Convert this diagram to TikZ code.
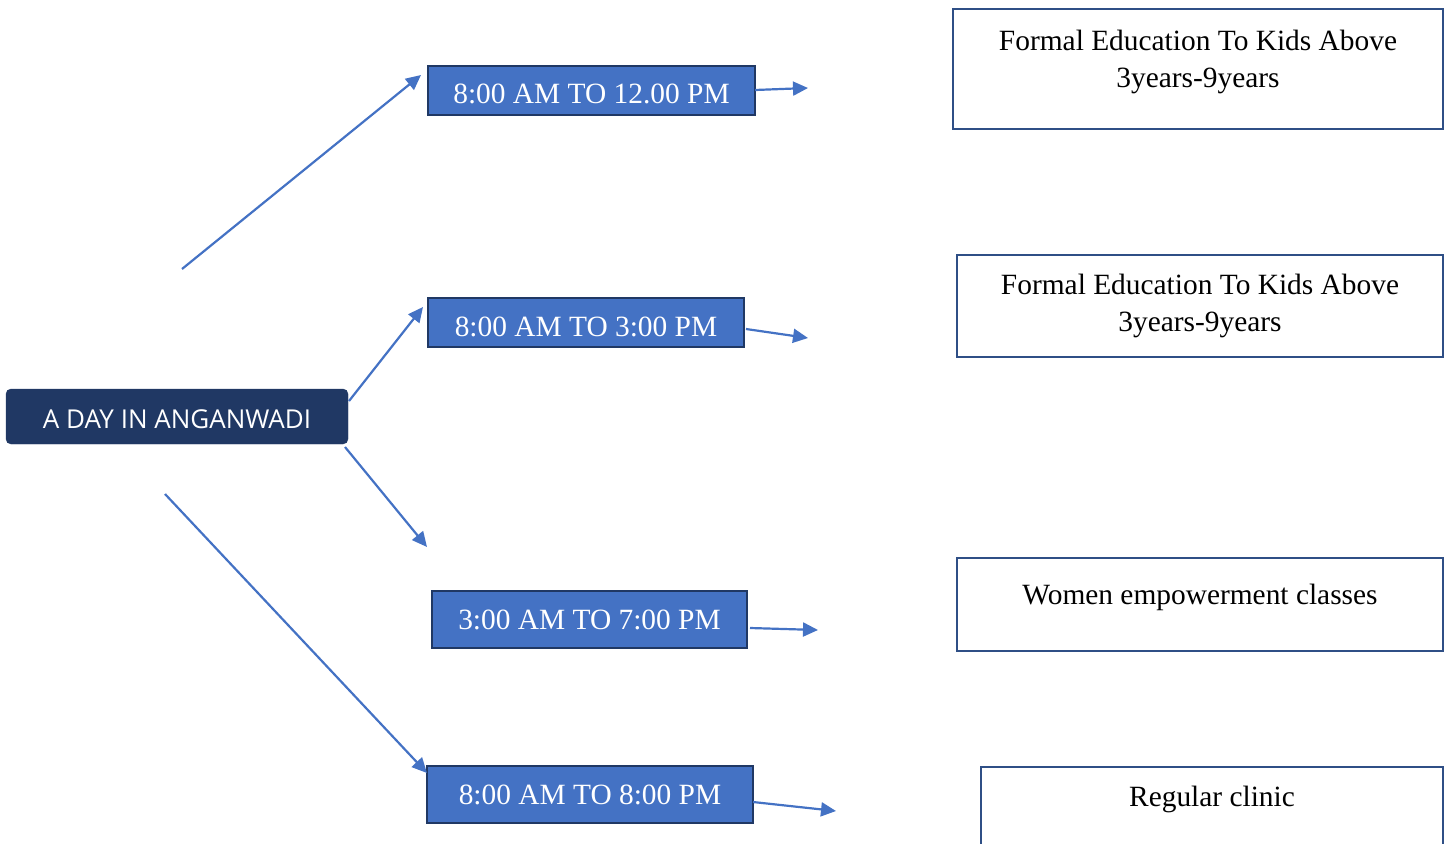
\documentclass[tikz,border=0pt]{standalone}
\usepackage{fontspec}
\setmainfont{Liberation Serif}
\newfontfamily\headfont{Open Sans}
\usetikzlibrary{arrows.meta}
\definecolor{navy}{HTML}{203864}
\definecolor{blu}{HTML}{4472C4}
\definecolor{bord}{HTML}{2F4F86}
\begin{document}
\begin{tikzpicture}[x=1pt,y=-1pt,
  timebox/.style={draw=navy, fill=blu, line width=2pt, text=white,
    font=\fontsize{29.4}{32}\selectfont, inner sep=0pt, anchor=center},
  infobox/.style={draw=bord, line width=2.2pt, fill=white, inner sep=0pt, anchor=center},
  infotext/.style={text=black, align=center, font=\fontsize{29.4}{37}\selectfont, inner sep=0pt},
  headbox/.style={fill=navy, draw=navy, rounded corners=5pt, text=white,
    font=\headfont\fontsize{26}{30}\selectfont, inner sep=0pt, minimum width=342pt, minimum height=55pt,
    text height=23.6pt, text depth=0pt},
  conn/.style={draw=blu, line width=2.2pt, -{Triangle[length=15pt,width=14pt]}}
]
\useasboundingbox (0,0) rectangle (1447,843);

% main node
\node[headbox] (main) at (177,416.5) {A DAY IN ANGANWADI};

% time boxes
\node[timebox, minimum width=327pt, minimum height=49pt, text height=26.4pt, text depth=0pt] (t1) at (591.5,90.5) {8:00 AM TO 12.00 PM};
\node[timebox, minimum width=316pt, minimum height=49pt, text height=28.4pt, text depth=0pt] (t2) at (586,322.5) {8:00 AM TO 3:00 PM};
\node[timebox, minimum width=315pt, minimum height=57pt] (t3) at (589.5,619.5) {3:00 AM TO 7:00 PM};
\node[timebox, minimum width=326pt, minimum height=57pt] (t4) at (590,794.5) {8:00 AM TO 8:00 PM};

% info boxes
\node[infobox, minimum width=490pt, minimum height=120pt] (b1) at (1198,69) {};
\node[infotext] (b1t) at (1198,61.5) {Formal Education To Kids Above\\3years-9years};
\node[infobox, minimum width=486pt, minimum height=102pt] (b2) at (1200,306) {};
\node[infotext] (b2t) at (1200,306) {Formal Education To Kids Above\\3years-9years};
\node[infobox, minimum width=486pt, minimum height=93pt] (b3) at (1200,604.5) {};
\node[infotext] (b3t) at (1200,597) {Women empowerment classes};
\node[infobox, minimum width=462pt, minimum height=110pt] (b4) at (1212,822) {};
\node[infotext] (b4t) at (1212,799) {Regular clinic};

% connector endpoints
\coordinate (s1) at (182,269);
\coordinate (e1) at (421,75);
\coordinate (s2) at (349,401);
\coordinate (e2) at (423,307);
\coordinate (s3) at (345,447);
\coordinate (e3) at (427,547);
\coordinate (s4) at (165,494);
\coordinate (e4) at (427,773);
\coordinate (r1s) at (755,90);
\coordinate (r1e) at (808,88);
\coordinate (r2s) at (746,329);
\coordinate (r2e) at (808,338);
\coordinate (r3s) at (750,628);
\coordinate (r3e) at (818,630);
\coordinate (r4s) at (753,802);
\coordinate (r4e) at (836,811);

\draw[conn] (s1) -- (e1);
\draw[conn] (s2) -- (e2);
\draw[conn] (s3) -- (e3);
\draw[conn] (s4) -- (e4);
\draw[conn] (r1s) -- (r1e);
\draw[conn] (r2s) -- (r2e);
\draw[conn] (r3s) -- (r3e);
\draw[conn] (r4s) -- (r4e);
\end{tikzpicture}
\end{document}
